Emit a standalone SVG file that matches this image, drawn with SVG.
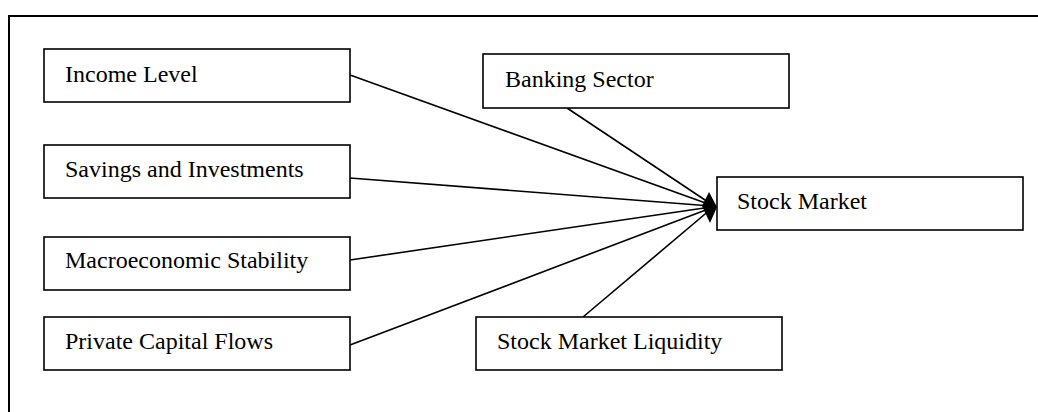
<svg xmlns="http://www.w3.org/2000/svg" width="1038" height="412" viewBox="0 0 1038 412">
<style>
.box{fill:#fff;stroke:#000;stroke-width:1.6}
.lbl{font-family:"Liberation Serif","Times New Roman",serif;font-size:24px;fill:#000}
.con{stroke:#000;stroke-width:1.6;fill:none}
</style>
<rect width="1038" height="412" fill="#fff"/>
<g id="frame"><path d="M9,412 V16 H1038" fill="none" stroke="#000" stroke-width="2"/></g>
<g id="connectors">
<line class="con" x1="350" y1="75" x2="711" y2="205"/>
<line class="con" x1="350" y1="178" x2="711" y2="206"/>
<line class="con" x1="350" y1="260" x2="711" y2="207"/>
<line class="con" x1="350" y1="345" x2="711" y2="208"/>
<line class="con" x1="567" y1="108" x2="711" y2="204"/>
<line class="con" x1="583" y1="317" x2="711" y2="209"/>
<polygon points="717,207 709,192 702,206 710,223" fill="#000"/>
</g>
<g id="income"><rect class="box" x="44" y="49" width="306" height="53"/><text class="lbl" x="65" y="82">Income Level</text></g>
<g id="savings"><rect class="box" x="44" y="145" width="306" height="53"/><text class="lbl" x="65" y="177">Savings and Investments</text></g>
<g id="macro"><rect class="box" x="44" y="237" width="306" height="53"/><text class="lbl" x="65" y="268">Macroeconomic Stability</text></g>
<g id="private"><rect class="box" x="44" y="317" width="306" height="53"/><text class="lbl" x="65" y="349">Private Capital Flows</text></g>
<g id="banking"><rect class="box" x="483" y="54" width="306" height="54"/><text class="lbl" x="505" y="87">Banking Sector</text></g>
<g id="stock"><rect class="box" x="717" y="177" width="306" height="53"/><text class="lbl" x="737" y="209">Stock Market</text></g>
<g id="liquidity"><rect class="box" x="476" y="317" width="306" height="53"/><text class="lbl" x="497" y="349">Stock Market Liquidity</text></g>
</svg>
